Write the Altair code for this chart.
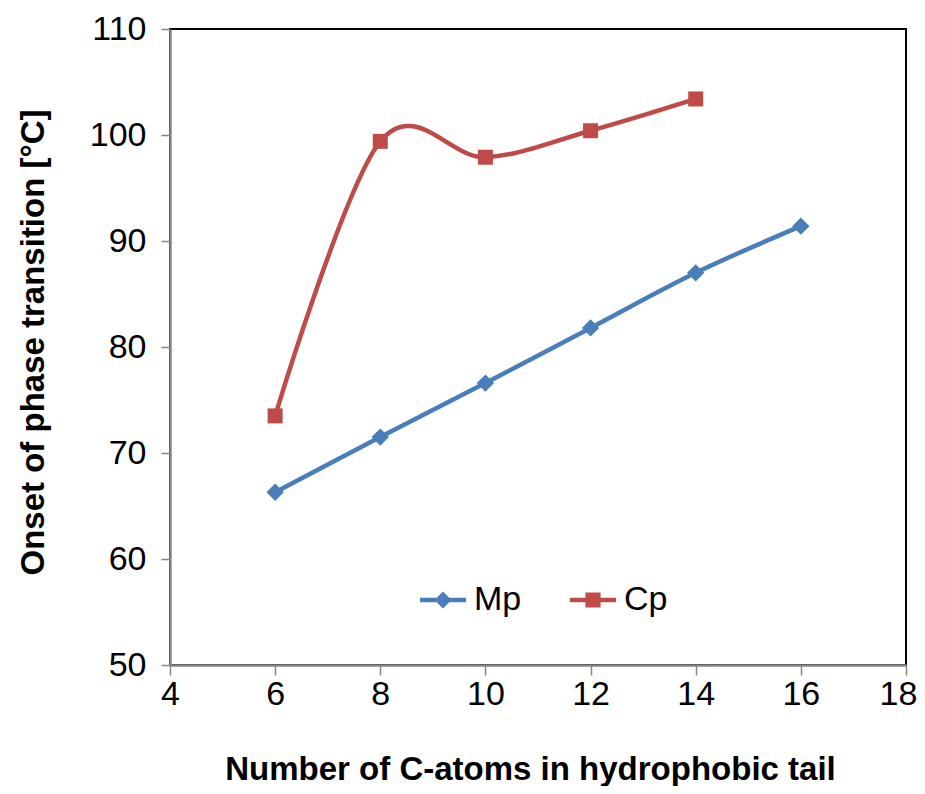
import altair as alt
import pandas as pd

# Data
mp_x = [6, 8, 10, 12, 14, 16]
mp_y = [66.3, 71.5, 76.6, 81.8, 87.0, 91.4]
cp_x = [6, 8, 10, 12, 14]
cp_y = [73.5, 99.4, 97.9, 100.4, 103.4]

series_names = ["Mp", "Cp"]
series_colors = ["#4A7EBB", "#BE4B48"]
x_ticks = [4, 6, 8, 10, 12, 14, 16, 18]
y_ticks = [50, 60, 70, 80, 90, 100, 110]

rows = [{"series": "Mp", "x": a, "y": b} for a, b in zip(mp_x, mp_y)]
rows += [{"series": "Cp", "x": a, "y": b} for a, b in zip(cp_x, cp_y)]
df = pd.DataFrame(rows)

FONT = "Liberation Sans"

legend_paths = [
    "M-1,-0.1L1,-0.1L1,0.1L-1,0.1Z M0,-0.37L0.37,0L0,0.37L-0.37,0Z",
    "M-1,-0.1L1,-0.1L1,0.1L-1,0.1Z M-0.33,-0.33L0.33,-0.33L0.33,0.33L-0.33,0.33Z",
]

x_scale = alt.Scale(domain=[4, 18], nice=False, zero=False)
y_scale = alt.Scale(domain=[50, 110], nice=False, zero=False)

x_axis = alt.Axis(
    values=x_ticks,
    title="Number of C-atoms in hydrophobic tail",
    grid=False,
    tickSize=10,
    labelFontSize=34,
    labelFont=FONT,
    labelColor="#000000",
    labelPadding=2,
    labelFlush=False,
    labelOverlap=False,
    labelOffset=alt.ConditionalAxisNumber(
        condition={"test": "datum.value == 18", "value": -8}, value=0
    ),
    titleFont=FONT,
    titleFontSize=33,
    titleFontWeight="bold",
    titleColor="#000000",
    titleX=360,
    titleY=114,
    titleAlign="center",
    titleBaseline="alphabetic",
    domainColor="#868686",
    tickColor="#868686",
    domainWidth=2.5,
    tickWidth=1.5,
)
y_axis = alt.Axis(
    values=y_ticks,
    title="Onset of phase transition [°C]",
    grid=False,
    tickSize=9,
    labelFontSize=34,
    labelFont=FONT,
    labelColor="#000000",
    labelPadding=15,
    labelFlush=False,
    labelOverlap=False,
    titleFont=FONT,
    titleFontSize=33,
    titleFontWeight="bold",
    titleColor="#000000",
    titleAngle=270,
    titleX=-127,
    titleY=313,
    titleAlign="center",
    titleBaseline="alphabetic",
    domainColor="#868686",
    tickColor="#868686",
    domainWidth=2.5,
    tickWidth=1.5,
)

x_plain = alt.X("x:Q", scale=x_scale, axis=None)
y_plain = alt.Y("y:Q", scale=y_scale, axis=None)

base = alt.Chart(df)

layers = []
# Layer carrying the axes (bottom/left)
layers.append(
    base.mark_point(opacity=0, size=0).encode(
        x=alt.X("x:Q", scale=x_scale, axis=x_axis),
        y=alt.Y("y:Q", scale=y_scale, axis=y_axis),
    )
)
for name, col in zip(series_names, series_colors):
    layers.append(
        base.transform_filter(alt.datum.series == name)
        .mark_line(interpolate="cardinal", tension=0, strokeWidth=4.5, color=col)
        .encode(x=x_plain, y=y_plain)
    )
for name, col, shp, sz in zip(series_names, series_colors, ["diamond", "square"], [300, 225]):
    layers.append(
        base.transform_filter(alt.datum.series == name)
        .mark_point(shape=shp, filled=True, size=sz, opacity=1, color=col)
        .encode(x=x_plain, y=y_plain)
    )

leg = alt.Legend(
    title=None,
    orient="none",
    legendX=250,
    legendY=548,
    direction="horizontal",
    labelFontSize=34,
    labelFont=FONT,
    labelColor="#000000",
    symbolSize=2116,
    symbolOpacity=1,
    symbolStrokeWidth=0,
    labelOffset=8,
    columnPadding=48,
    padding=0,
)

legend_layer = base.mark_point(filled=True, opacity=1, size=0, strokeWidth=0).encode(
    x=x_plain, y=y_plain,
    color=alt.Color("series:N", scale=alt.Scale(domain=series_names, range=series_colors),
                    legend=leg, sort=series_names),
    shape=alt.Shape("series:N", scale=alt.Scale(domain=series_names, range=legend_paths),
                    legend=leg, sort=series_names),
)
layers.append(legend_layer)

chart = alt.layer(*layers).resolve_axis(x="independent", y="independent").properties(
    width=736,
    height=636,
    autosize=alt.AutoSizeParams(type="none"),
    padding={"left": 162, "top": 21, "right": 11, "bottom": 121},
).configure(
    background="#ffffff",
    view=alt.ViewConfig(stroke="#000000", strokeWidth=2),
)

chart.save("out.html", embed_options={"renderer": "svg", "actions": False})
